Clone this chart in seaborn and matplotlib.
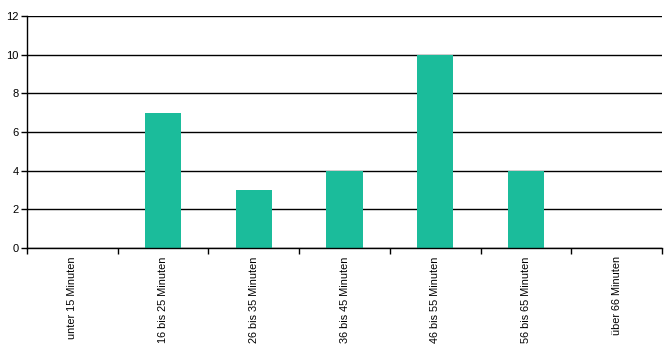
import matplotlib
matplotlib.use("Agg")
import matplotlib.pyplot as plt
import seaborn as sns
import numpy as np
import pandas as pd
from matplotlib.ticker import FixedLocator, MultipleLocator

categories = ["unter 15 Minuten", "16 bis 25 Minuten", "26 bis 35 Minuten",
              "36 bis 45 Minuten", "46 bis 55 Minuten", "56 bis 65 Minuten",
              "über 66 Minuten"]
values = [0, 7, 3, 4, 10, 4, 0]

sns.set_theme(style="white")
plt.rcParams['font.family'] = ['Liberation Sans', 'DejaVu Sans']

df = pd.DataFrame({"cat": categories, "val": values})

fig = plt.figure(figsize=(6.7, 3.5), dpi=100)
ax = fig.add_axes([27/670, 1-248/350, (662-27)/670, (248-16)/350])

sns.barplot(data=df, x="cat", y="val", color="#1BBC9B", width=0.4,
            saturation=1, ax=ax, zorder=3, edgecolor="none")

ax.set_xlim(-0.5, len(categories) - 0.5)
ax.set_ylim(0, 12)
ax.yaxis.set_major_locator(MultipleLocator(2))
ax.grid(axis="y", color="black", linewidth=1, zorder=0)
ax.set_axisbelow(True)

for s in ["top", "right"]:
    ax.spines[s].set_visible(False)
for s in ["left", "bottom"]:
    ax.spines[s].set_color("black")
    ax.spines[s].set_linewidth(1)
    ax.spines[s].set_zorder(4)

ax.set_xticks(range(len(categories)))
ax.set_xticklabels(categories, rotation=90, fontsize=7.8, color="black")
ax.xaxis.set_minor_locator(FixedLocator(np.arange(-0.5, len(categories), 1)))
ax.tick_params(axis="x", which="major", length=0, pad=6)
ax.tick_params(axis="x", which="minor", length=4, width=1, color="black", direction="out", bottom=True)
ax.tick_params(axis="y", which="major", length=4, width=1, color="black", direction="out", left=True,
               labelsize=8, labelcolor="black", pad=2)
ax.set_xlabel("")
ax.set_ylabel("")

fig.savefig("out.png", dpi=100)
